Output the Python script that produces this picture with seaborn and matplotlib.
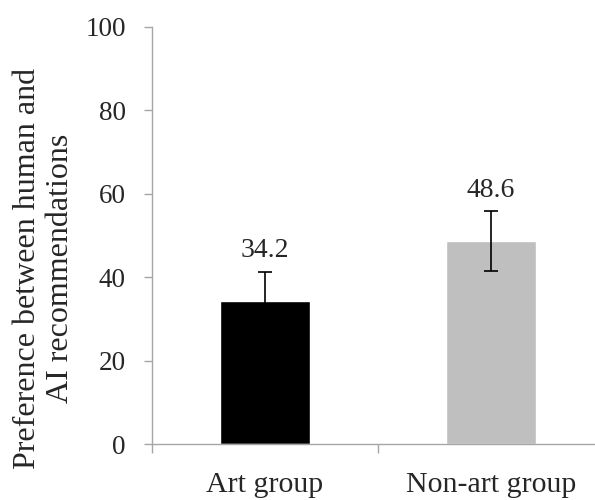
import matplotlib
matplotlib.use("Agg")
import matplotlib.pyplot as plt
import seaborn as sns
import pandas as pd
from matplotlib.ticker import FixedLocator

# ----- Data ----- #
groups = ["Art group", "Non-art group"]
means = [34.2, 48.6]
errors = [7.1, 7.2]
bar_colors = ["#000000", "#bfbfbf"]
y_ticks = [0, 20, 40, 60, 80, 100]
y_label = "Preference between human and\nAI recommendations"

sns.set_theme(style="white")
plt.rcParams['font.family'] = ['Liberation Serif', 'DejaVu Serif']
axis_gray = "#a6a6a6"

df = pd.DataFrame({"group": groups, "mean": means, "err": errors})

fig = plt.figure(figsize=(5.95, 5.0), dpi=100)
ax = fig.add_axes([152 / 595, 0.112, 443 / 595, 0.8346])

sns.barplot(data=df, x="group", y="mean", hue="group", palette=bar_colors,
            width=0.40, errorbar=None, legend=False, saturation=1, ax=ax)
ax.errorbar(range(len(groups)), df["mean"], yerr=df["err"], fmt="none",
            ecolor="black", elinewidth=1.2, capsize=5, capthick=1.2)

# value labels above the error bars
for i, (m, e) in enumerate(zip(means, errors)):
    ax.annotate(f"{m:.1f}", xy=(i, m + e), xytext=(0, 6), textcoords="offset points",
                ha="center", va="bottom", fontsize=20)

ax.set_ylim(0, 100)
ax.set_xlim(-0.5, 1.5 - 9 / 226)
ax.set_yticks(y_ticks)
ax.set_yticklabels([str(t) for t in y_ticks], fontsize=19.5)
ax.set_xticks(range(len(groups)))
ax.set_xticklabels(groups, fontsize=21.5)
ax.xaxis.set_minor_locator(FixedLocator([-0.5, 0.5, 1.5]))

ax.tick_params(axis="x", which="major", length=0, pad=20)
ax.tick_params(axis="x", which="minor", length=9 * 0.72, width=1, color=axis_gray, direction="out", bottom=True)
ax.tick_params(axis="y", length=8 * 0.72, width=1, color=axis_gray, direction="out", left=True, pad=13)

for side in ["top", "right"]:
    ax.spines[side].set_visible(False)
for side in ["left", "bottom"]:
    ax.spines[side].set_color(axis_gray)
    ax.spines[side].set_linewidth(1)

ax.set_xlabel("")
ax.set_ylabel(y_label, fontsize=23, linespacing=1.2)
ax.yaxis.label.set_va("center")
ax.yaxis.label.set_ha("center")
ax.yaxis.set_label_coords(-0.244, 0.42)

plt.savefig("out.png", dpi=100)
